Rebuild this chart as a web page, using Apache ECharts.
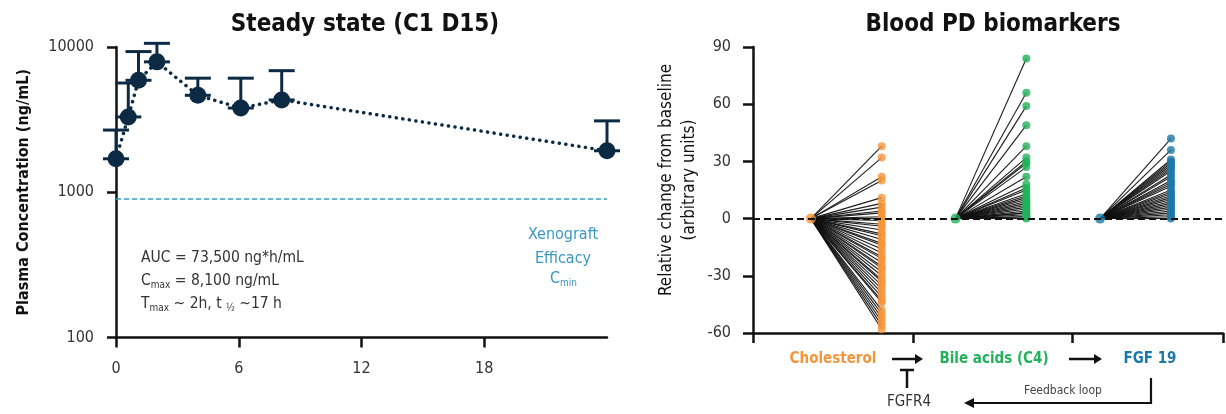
<!DOCTYPE html>
<html>
<head>
<meta charset="utf-8">
<script src="https://cdn.jsdelivr.net/npm/echarts@6/dist/echarts.min.js"></script>
<style>
  html, body { margin: 0; padding: 0; background: #fff; }
  #chart { width: 1226px; height: 414px; }
</style>
</head>
<body>
<div id="chart"></div>
<script>
// PK: steady state concentration (ng/mL) vs time (h)
const pkTimes = [0, 0.6, 1.1, 2, 4, 6.1, 8.1, 24]
const pkMean = [1700, 3300, 5900, 7900, 4650, 3800, 4320, 1930]
const pkUpper = [2680, 5650, 9300, 10600, 6100, 6100, 6870, 3100]
const efficacyCmin = 900
const pkXTicks = [0, 6, 12, 18, 24]

// PD biomarkers: relative change from baseline per patient
const pdGroups = ['Cholesterol', 'Bile acids (C4)', 'FGF 19']
const cholesterolChange = [38, 32, 22, 20, 11, 8, 6, 4, 3, 1, 0, -1, -3, -4, -6, -8, -9, -11, -13, -14,
  -16, -18, -20, -21, -23, -25, -26, -28, -30, -32, -33, -35, -37, -39, -41, -43, -44, -48, -50, -52, -54, -56, -58]
const bileAcidsChange = [84, 66, 59, 49, 38, 32, 30, 29, 27, 22, 18, 16, 15, 13, 12, 11, 10, 9, 8, 7,
  6, 5, 4, 3, 3, 2, 1, 1, 0]
const fgf19Change = [42, 36, 31, 30, 29, 28, 27, 26, 25, 23, 22, 20, 19, 18, 17, 15, 14, 13, 12, 11,
  10, 9, 8, 7, 6, 5, 4, 3, 2, 1, 0]
const pdYTicks = [-60, -30, 0, 30, 60, 90]

const FONT = '"Liberation Sans Narrow", "Arial Narrow", "DejaVu Sans Condensed", sans-serif'
const NAVY = '#0c2a44'
const BLUE_TXT = '#3a97c2'
const groupColors = ['#f5953a', '#22b25a', '#1b78a8']
const groupValues = [cholesterolChange, bileAcidsChange, fgf19Change]

const chart = echarts.init(document.getElementById('chart'))

// x slots on the PD axis: baseline then follow-up, for each group
const slot = (g, end) => 0.8 + g * 2 + (end ? 0.98 : 0)

const pdLines = []
const pdSeries = []
groupValues.forEach((vals, g) => {
  vals.forEach(v => {
    pdLines.push({ coords: [[slot(g, false), 0], [slot(g, true), v]] })
  })
})

groupValues.forEach((vals, g) => {
  pdSeries.push({
    type: 'scatter',
    xAxisIndex: 1,
    yAxisIndex: 1,
    symbolSize: 8,
    z: 4,
    itemStyle: { color: groupColors[g] },
    data: vals.map(v => [slot(g, true), v])
  })
  pdSeries.push({
    type: 'scatter',
    xAxisIndex: 1,
    yAxisIndex: 1,
    symbolSize: 10,
    z: 4,
    itemStyle: { color: groupColors[g] },
    data: [[slot(g, false), 0]]
  })
})

const axisLine = { show: true, onZero: false, lineStyle: { color: '#111', width: 2.5 } }
const tickStyle = { color: '#111', width: 2.5 }
const labelStyle = { color: '#333', fontSize: 16, fontFamily: FONT }

const txt = (text, x, y, size, color, weight) => ({
  type: 'text',
  style: {
    text, x, y,
    fill: color,
    font: (weight || 'normal') + ' ' + size + 'px ' + FONT,
    textAlign: 'center',
    textVerticalAlign: 'middle'
  }
})

const arrow = (x1, x2, y) => [
  { type: 'line', shape: { x1, y1: y, x2: x2 - 6, y2: y }, style: { stroke: '#111', lineWidth: 2.5 } },
  { type: 'polygon', shape: { points: [[x2 - 8, y - 5], [x2, y], [x2 - 8, y + 5]] }, style: { fill: '#111' } }
]

const subRich = (size, color) => ({
  n: { fontSize: size, fontFamily: FONT, fill: color },
  s: { fontSize: Math.round(size * 0.62), fontFamily: FONT, fill: color, padding: [9, 0, 0, 0] }
})

chart.setOption({
  animation: false,
  title: [
    {
      text: 'Steady state (C1 D15)',
      left: 360, top: 8, textAlign: 'center',
      textStyle: { fontSize: 24, fontWeight: 'bold', fontFamily: FONT, color: '#111' }
    },
    {
      text: 'Blood PD biomarkers',
      left: 988, top: 8, textAlign: 'center',
      textStyle: { fontSize: 24, fontWeight: 'bold', fontFamily: FONT, color: '#111' }
    }
  ],
  grid: [
    { left: 116, top: 47, width: 491, height: 290.5 },
    { left: 753, top: 47, width: 470, height: 286 }
  ],
  xAxis: [
    {
      type: 'value', gridIndex: 0, min: 0, max: 24, interval: 6,
      axisLine, splitLine: { show: false },
      axisTick: { length: 10, lineStyle: tickStyle },
      axisLabel: { ...labelStyle, margin: 23, showMaxLabel: false,
        formatter: v => pkXTicks.includes(v) && v !== 24 ? String(v) : '' }
    },
    {
      type: 'value', gridIndex: 1, min: 0, max: 6.5,
      axisLine, splitLine: { show: false },
      axisTick: { length: 10, lineStyle: tickStyle, customValues: [0, 2.21, 4.41, 6.5] },
      axisLabel: { show: false }
    }
  ],
  yAxis: [
    {
      type: 'log', logBase: 10, gridIndex: 0, min: 100, max: 10000,
      axisLine, splitLine: { show: false },
      axisTick: { length: 9, lineStyle: tickStyle },
      axisLabel: { ...labelStyle, margin: 22, formatter: v => String(Math.round(v)) },
      name: 'Plasma Concentration (ng/mL)',
      nameLocation: 'middle', nameGap: 84,
      nameTextStyle: { fontSize: 16, fontWeight: 'bold', fontFamily: FONT, color: '#111' }
    },
    {
      type: 'value', gridIndex: 1, min: -60, max: 90, interval: 30,
      axisLine, splitLine: { show: false },
      axisTick: { length: 10, lineStyle: tickStyle },
      axisLabel: { ...labelStyle, margin: 22 },
      name: 'Relative change from baseline\n(arbitrary units)',
      nameLocation: 'middle', nameGap: 52,
      nameTextStyle: { fontSize: 17, lineHeight: 23, fontFamily: FONT, color: '#111', padding: [0, 0, 0, 20] }
    }
  ],
  series: [
    {
      type: 'custom',
      xAxisIndex: 0, yAxisIndex: 0,
      z: 2,
      data: pkTimes.map((t, i) => [t, pkMean[i], pkUpper[i]]),
      renderItem: (params, api) => {
        const pm = api.coord([api.value(0), api.value(1)])
        const pu = api.coord([api.value(0), api.value(2)])
        const h = 13
        const st = { stroke: NAVY, lineWidth: 3 }
        return {
          type: 'group',
          children: [
            { type: 'line', shape: { x1: pm[0], y1: pm[1], x2: pu[0], y2: pu[1] }, style: st },
            { type: 'line', shape: { x1: pu[0] - h, y1: pu[1], x2: pu[0] + h, y2: pu[1] }, style: st },
            { type: 'line', shape: { x1: pm[0] - h, y1: pm[1], x2: pm[0] + h, y2: pm[1] }, style: st }
          ]
        }
      }
    },
    {
      type: 'line',
      xAxisIndex: 0, yAxisIndex: 0,
      z: 3,
      data: pkTimes.map((t, i) => [t, pkMean[i]]),
      symbol: 'circle', symbolSize: 17,
      itemStyle: { color: NAVY },
      lineStyle: { color: NAVY, width: 3.5, type: [0.1, 6.5], cap: 'round' },
      markLine: {
        silent: true, symbol: 'none', label: { show: false },
        lineStyle: { color: '#3d9cc6', width: 1.5, type: [5, 3] },
        data: [{ yAxis: efficacyCmin }]
      }
    },
    {
      type: 'lines',
      coordinateSystem: 'cartesian2d',
      xAxisIndex: 1, yAxisIndex: 1,
      z: 2,
      lineStyle: { color: '#111', width: 1.1, opacity: 0.95 },
      data: pdLines,
      markLine: {
        silent: true, symbol: 'none', label: { show: false },
        lineStyle: { color: '#111', width: 2.2, type: [7, 4] },
        data: [{ yAxis: 0 }]
      }
    },
    ...pdSeries
  ],
  graphic: [
    {
      type: 'text', left: 141, top: 250,
      style: { text: '{n|AUC = 73,500 ng*h/mL}', rich: subRich(15.5, '#333') }
    },
    {
      type: 'text', left: 141, top: 273,
      style: { text: '{n|C}{s|max}{n| = 8,100 ng/mL}', rich: subRich(15.5, '#333') }
    },
    {
      type: 'text', left: 141, top: 296,
      style: { text: '{n|T}{s|max}{n| ~ 2h, t }{s|½}{n| ~17 h}', rich: subRich(15.5, '#333') }
    },
    txt('Xenograft', 563, 235, 16, BLUE_TXT),
    txt('Efficacy', 563, 259, 16, BLUE_TXT),
    {
      type: 'text', left: 550, top: 271,
      style: { text: '{n|C}{s|min}', rich: subRich(16, BLUE_TXT) }
    },
    txt(pdGroups[0], 833, 359, 15, groupColors[0], 'bold'),
    txt(pdGroups[1], 994, 359, 15, groupColors[1], 'bold'),
    txt(pdGroups[2], 1150, 359, 15, groupColors[2], 'bold'),
    ...arrow(892, 923, 359),
    ...arrow(1069, 1102, 359),
    { type: 'line', shape: { x1: 907, y1: 370, x2: 907, y2: 388 }, style: { stroke: '#111', lineWidth: 2.5 } },
    { type: 'line', shape: { x1: 900, y1: 370, x2: 914, y2: 370 }, style: { stroke: '#111', lineWidth: 2.5 } },
    txt('FGFR4', 909, 402, 15, '#333'),
    txt('Feedback loop', 1063, 391, 12, '#444'),
    { type: 'polyline', shape: { points: [[1151, 378], [1151, 403], [972, 403]] }, style: { stroke: '#111', lineWidth: 2.2, fill: null } },
    { type: 'polygon', shape: { points: [[974, 398], [964, 403], [974, 408]] }, style: { fill: '#111' } }
  ]
})

window.addEventListener('resize', () => chart.resize())
</script>
</body>
</html>
